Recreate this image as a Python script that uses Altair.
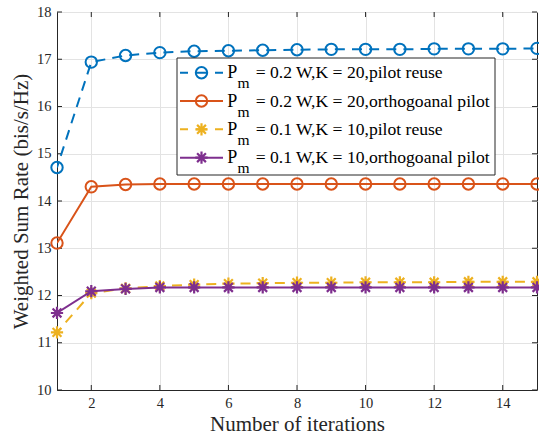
import altair as alt
import pandas as pd

iters = list(range(1, 16))
blue = [14.71, 16.94, 17.08, 17.14, 17.17, 17.18, 17.19, 17.20, 17.21, 17.21, 17.21, 17.22, 17.22, 17.22, 17.23]
orange = [13.11, 14.30, 14.35, 14.36, 14.36, 14.36, 14.36, 14.36, 14.36, 14.36, 14.36, 14.36, 14.36, 14.36, 14.36]
yellow = [11.22, 12.05, 12.15, 12.20, 12.23, 12.25, 12.26, 12.27, 12.27, 12.28, 12.28, 12.28, 12.29, 12.29, 12.29]
purple = [11.63, 12.09, 12.14, 12.17, 12.17, 12.17, 12.17, 12.17, 12.17, 12.17, 12.17, 12.17, 12.17, 12.17, 12.17]

x_ticks = [2, 4, 6, 8, 10, 12, 14]
y_ticks = list(range(10, 19))

series_names = ["s1", "s2", "s3", "s4"]
series_values = [blue, orange, yellow, purple]
series_colors = ["#0072BD", "#D95319", "#EDB120", "#7E2F8E"]
series_dash = [[10, 7.15], None, [10, 7.15], None]
series_dash_offset = [5, 0, 4, 0]
series_marker = ["circle", "circle", "star", "star"]
legend_rest = ["= 0.2 W,K = 20,pilot reuse", "= 0.2 W,K = 20,orthogoanal pilot",
               "= 0.1 W,K = 10,pilot reuse", "= 0.1 W,K = 10,orthogoanal pilot"]

STAR = "M-1,0L1,0M0,-1L0,1M-0.72,-0.72L0.72,0.72M-0.72,0.72L0.72,-0.72"
FONT = "Times New Roman, Liberation Serif, serif"
W, H = 480, 378
AX = "#262626"

xs = alt.Scale(domain=[1, 15], nice=False, zero=False)
ys = alt.Scale(domain=[10, 18], nice=False, zero=False)
xax = alt.Axis(values=x_ticks, title="Number of iterations", grid=True)
yax = alt.Axis(values=y_ticks, title="Weighted Sum Rate (bis/s/Hz)", grid=True)

layers = []

# inward tick marks (MATLAB style, box on)
xt = pd.DataFrame({"x": x_ticks})
yt = pd.DataFrame({"y": y_ticks})
layers.append(alt.Chart(xt).mark_rule(color=AX, strokeWidth=1).encode(
    x=alt.X("x:Q", scale=xs, axis=xax), y=alt.value(H), y2=alt.value(H - 5)))
layers.append(alt.Chart(xt).mark_rule(color=AX, strokeWidth=1).encode(
    x=alt.X("x:Q", scale=xs, axis=xax), y=alt.value(0), y2=alt.value(5)))
layers.append(alt.Chart(yt).mark_rule(color=AX, strokeWidth=1).encode(
    y=alt.Y("y:Q", scale=ys, axis=yax), x=alt.value(0), x2=alt.value(5)))
layers.append(alt.Chart(yt).mark_rule(color=AX, strokeWidth=1).encode(
    y=alt.Y("y:Q", scale=ys, axis=yax), x=alt.value(W), x2=alt.value(W - 5)))

for name, vals, col, dash, doff, mk in zip(series_names, series_values, series_colors,
                                           series_dash, series_dash_offset, series_marker):
    df = pd.DataFrame({"x": iters, "y": vals})
    base = alt.Chart(df).encode(
        x=alt.X("x:Q", scale=xs, axis=xax),
        y=alt.Y("y:Q", scale=ys, axis=yax),
    )
    line_kw = dict(color=col, strokeWidth=2, clip=True)
    if dash:
        line_kw["strokeDash"] = dash
        line_kw["strokeDashOffset"] = doff
    layers.append(base.mark_line(**line_kw))
    if mk == "circle":
        layers.append(base.mark_point(shape="circle", filled=False, color=col, size=130, strokeWidth=2, opacity=1))
    else:
        layers.append(base.mark_point(shape=STAR, filled=False, color=col, size=150, strokeWidth=2.2, opacity=1))

# legend box
dummy = pd.DataFrame({"a": [0]})
layers.append(alt.Chart(dummy).mark_rect(fill="white", stroke=AX, strokeWidth=1).encode(
    x=alt.value(120), x2=alt.value(438), y=alt.value(46), y2=alt.value(163)))
row_y = [60.7, 89.0, 117.3, 145.7]
for i, (col, dash, mk, rest) in enumerate(zip(series_colors, series_dash, series_marker, legend_rest)):
    ry = row_y[i]
    lk = dict(color=col, strokeWidth=2)
    if dash:
        lk["strokeDash"] = [8, 8, 11, 8, 8, 20]
    layers.append(alt.Chart(dummy).mark_rule(**lk).encode(
        x=alt.value(123), x2=alt.value(166), y=alt.value(ry)))
    if mk == "circle":
        layers.append(alt.Chart(dummy).mark_point(shape="circle", filled=False, color=col, size=130, strokeWidth=2, opacity=1).encode(
            x=alt.value(144.5), y=alt.value(ry)))
    else:
        layers.append(alt.Chart(dummy).mark_point(shape=STAR, filled=False, color=col, size=150, strokeWidth=2.2, opacity=1).encode(
            x=alt.value(144.5), y=alt.value(ry)))
    layers.append(alt.Chart(dummy).mark_text(text="P", font=FONT, fontSize=18, color="#000000", align="left", baseline="alphabetic").encode(
        x=alt.value(170.3), y=alt.value(ry + 5.5)))
    layers.append(alt.Chart(dummy).mark_text(text="m", font=FONT, fontSize=15.5, color="#000000", align="left", baseline="alphabetic").encode(
        x=alt.value(180.5), y=alt.value(ry + 15.5)))
    layers.append(alt.Chart(dummy).mark_text(text=rest, font=FONT, fontSize=17.6, color="#000000", align="left", baseline="alphabetic").encode(
        x=alt.value(198.7), y=alt.value(ry + 5.5)))

chart = alt.layer(*layers).properties(
    width=W, height=H,
    padding={"left": 57, "top": 12, "right": 2, "bottom": 46},
    autosize=alt.AutoSizeParams(type="none"),
    background="white",
).configure_view(stroke=AX, strokeWidth=1).configure_axis(
    labelFont=FONT, titleFont=FONT, labelFontSize=14.5, titleFontSize=21,
    labelColor=AX, titleColor=AX, titleFontWeight="normal",
    domainColor=AX, tickColor=AX, tickSize=0,
    gridColor="#e3e3e3", gridWidth=1, labelPadding=6,
).configure_axisX(titlePadding=4).configure_axisY(titlePadding=5)

chart.save("out.html", embed_options={"renderer": "svg", "actions": False})
